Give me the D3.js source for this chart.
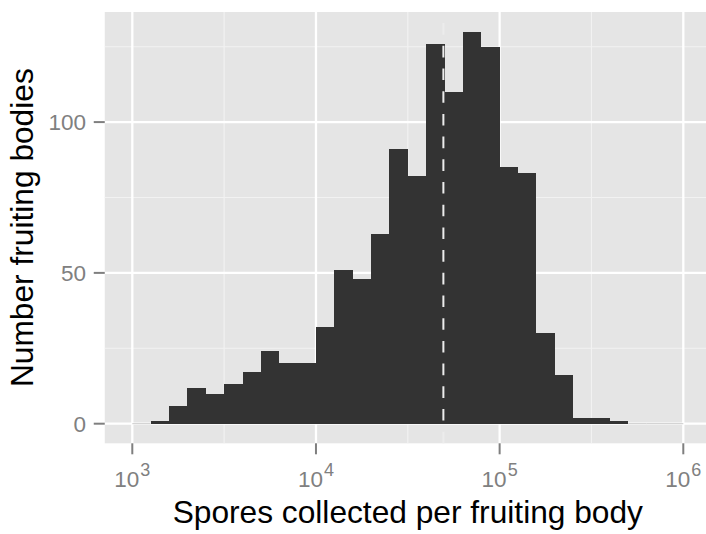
<!DOCTYPE html>
<html>
<head>
<meta charset="utf-8">
<script src="https://cdn.jsdelivr.net/npm/d3@7/dist/d3.min.js"></script>
<style>
  html, body { margin: 0; padding: 0; background: #ffffff; }
  svg { display: block; }
  text { font-family: "Liberation Sans", Arial, Helvetica, sans-serif; }
</style>
</head>
<body>
<svg id="chart" width="706" height="534"></svg>
<script>
// Histogram bins: lower edge of each bin in log10(spores), bin width 0.1
const binStartLog10 = [3.0, 3.1, 3.2, 3.3, 3.4, 3.5, 3.6, 3.7, 3.8, 3.9,
                       4.0, 4.1, 4.2, 4.3, 4.4, 4.5, 4.6, 4.7, 4.8, 4.9,
                       5.0, 5.1, 5.2, 5.3, 5.4, 5.5, 5.6, 5.7, 5.8, 5.9];
const binCounts = [0, 1, 6, 12, 10, 13, 17, 24, 20, 20,
                   32, 51, 48, 63, 91, 82, 126, 110, 130, 125,
                   85, 83, 30, 16, 2, 2, 1, 0, 0, 0];
const binWidthLog10 = 0.1;

// Median spores per fruiting body (dashed reference line)
const medianSpores = 49400;

// Axis breaks
const xMajorExponents = [3, 4, 5, 6];
const xMinorExponents = [3.5, 4.5, 5.5];
const yMajorTicks = [0, 50, 100];
const yMinorTicks = [25, 75, 125];

const xTitle = "Spores collected per fruiting body";
const yTitle = "Number fruiting bodies";

const svg = d3.select("#chart");

const panel = { left: 104.75, right: 710.85, top: 12, bottom: 443.3 };

const x = d3.scaleLog()
  .domain([Math.pow(10, 2.85), Math.pow(10, 6.15)])
  .range([panel.left, panel.right]);

const yMax = d3.max(binCounts);
const y = d3.scaleLinear()
  .domain([-0.05 * yMax, yMax * 1.05])
  .range([panel.bottom, panel.top]);

// Panel background
svg.append("rect")
  .attr("x", panel.left).attr("y", panel.top)
  .attr("width", panel.right - panel.left)
  .attr("height", panel.bottom - panel.top)
  .attr("fill", "#E5E5E5");

const grid = svg.append("g");

// Minor grid
grid.selectAll("line.xminor").data(xMinorExponents).join("line")
  .attr("x1", d => x(Math.pow(10, d))).attr("x2", d => x(Math.pow(10, d)))
  .attr("y1", panel.top).attr("y2", panel.bottom)
  .attr("stroke", "#F2F2F2").attr("stroke-width", 1.1);
grid.selectAll("line.yminor").data(yMinorTicks).join("line")
  .attr("x1", panel.left).attr("x2", panel.right)
  .attr("y1", d => y(d)).attr("y2", d => y(d))
  .attr("stroke", "#F2F2F2").attr("stroke-width", 1.1);

// Major grid
grid.selectAll("line.xmajor").data(xMajorExponents).join("line")
  .attr("x1", d => x(Math.pow(10, d))).attr("x2", d => x(Math.pow(10, d)))
  .attr("y1", panel.top).attr("y2", panel.bottom)
  .attr("stroke", "#FFFFFF").attr("stroke-width", 2.3);
grid.selectAll("line.ymajor").data(yMajorTicks).join("line")
  .attr("x1", panel.left).attr("x2", panel.right)
  .attr("y1", d => y(d)).attr("y2", d => y(d))
  .attr("stroke", "#FFFFFF").attr("stroke-width", 2.3);

// Bars
const bins = binStartLog10.map((e, i) => ({
  x0: Math.pow(10, e),
  x1: Math.pow(10, e + binWidthLog10),
  count: binCounts[i]
}));

svg.append("g").selectAll("rect").data(bins.filter(b => b.count > 0)).join("rect")
  .attr("x", d => x(d.x0))
  .attr("width", d => x(d.x1) - x(d.x0))
  .attr("y", d => y(d.count))
  .attr("height", d => y(0) - y(d.count))
  .attr("fill", "#333333")
  .attr("shape-rendering", "crispEdges");

// Empty bins leave a hairline on the baseline
svg.append("g").selectAll("line").data(bins.filter(b => b.count === 0)).join("line")
  .attr("x1", d => x(d.x0)).attr("x2", d => x(d.x1))
  .attr("y1", y(0)).attr("y2", y(0))
  .attr("stroke", "#BDBDBD").attr("stroke-width", 0.8);

// Median line, dashed, drawn upward from the panel bottom
svg.append("line")
  .attr("x1", x(medianSpores)).attr("x2", x(medianSpores))
  .attr("y1", panel.bottom).attr("y2", panel.top)
  .attr("stroke", "#ECECEC").attr("stroke-width", 2)
  .attr("stroke-dasharray", "11.6 11.1");

// Y axis ticks and labels
const yAxis = svg.append("g");
yAxis.selectAll("line").data(yMajorTicks).join("line")
  .attr("x1", panel.left - 11).attr("x2", panel.left)
  .attr("y1", d => y(d)).attr("y2", d => y(d))
  .attr("stroke", "#7F7F7F").attr("stroke-width", 2);
yAxis.selectAll("text").data(yMajorTicks).join("text")
  .attr("x", 86).attr("y", d => y(d))
  .attr("dy", "0.36em")
  .attr("text-anchor", "end")
  .attr("fill", "#808080")
  .attr("font-size", 22.5)
  .text(d => d);

// X axis ticks and labels (powers of ten)
const xAxis = svg.append("g");
xAxis.selectAll("line").data(xMajorExponents).join("line")
  .attr("x1", d => x(Math.pow(10, d))).attr("x2", d => x(Math.pow(10, d)))
  .attr("y1", panel.bottom).attr("y2", panel.bottom + 11)
  .attr("stroke", "#7F7F7F").attr("stroke-width", 2);
const xLabels = xAxis.selectAll("text").data(xMajorExponents).join("text")
  .attr("x", d => x(Math.pow(10, d)))
  .attr("y", 487.3)
  .attr("text-anchor", "middle")
  .attr("fill", "#808080")
  .attr("font-size", 22.5);
xLabels.append("tspan").text("10");
xLabels.append("tspan")
  .attr("font-size", 18)
  .attr("dy", -11)
  .attr("dx", 1)
  .text(d => d);

// Axis titles
svg.append("text")
  .attr("x", (panel.left + panel.right) / 2)
  .attr("y", 523.3)
  .attr("text-anchor", "middle")
  .attr("fill", "#000000")
  .attr("font-size", 31.7)
  .text(xTitle);

svg.append("text")
  .attr("transform", `translate(33, ${(panel.top + panel.bottom) / 2}) rotate(-90)`)
  .attr("text-anchor", "middle")
  .attr("fill", "#000000")
  .attr("font-size", 31.7)
  .text(yTitle);
</script>
</body>
</html>
